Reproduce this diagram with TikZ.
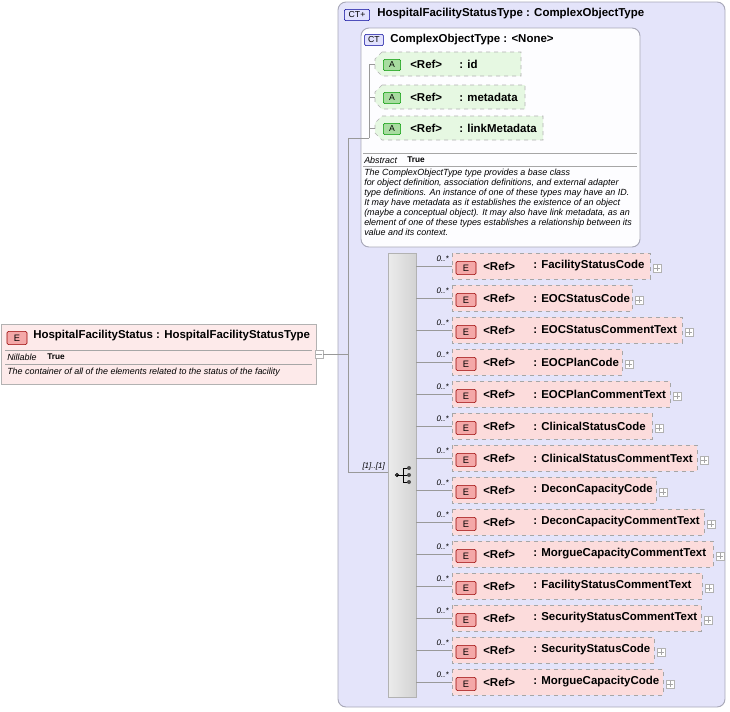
\documentclass[tikz,border=0pt]{standalone}
\usepackage{fontspec}
\setmainfont{Liberation Sans}
\usetikzlibrary{calc,positioning}
\definecolor{ctfill}{HTML}{E4E4FA}
\definecolor{ctline}{HTML}{A8A8B8}
\definecolor{efill}{HTML}{FCDCDC}
\definecolor{ebadge}{HTML}{F4A8A8}
\definecolor{afill}{HTML}{E6F8E2}
\definecolor{abadge}{HTML}{A8DCA0}
\tikzset{
	ctbox/.style={draw=ctline, rounded corners=6pt, line width=0.7pt},
	badge/.style={draw=#1!60!black, rounded corners=1pt, inner sep=0pt, minimum height=8.5pt, font=\fontsize{6.5}{7}\selectfont},
	refbox/.style={draw=gray!70, dashed, fill=efill, line width=0.5pt},
	attbox/.style={draw=gray!60, dashed, fill=afill, line width=0.5pt},
	lbl/.style={inner sep=0pt, anchor=west, font=\fontsize{8.6}{9}\selectfont\bfseries},
	note/.style={inner sep=0pt, anchor=west, font=\fontsize{6.7}{7.5}\selectfont\itshape, align=left},
	card/.style={inner sep=0pt, anchor=east, font=\fontsize{6}{6}\selectfont\itshape},
	conn/.style={draw=gray!80, line width=0.5pt},
	plusbox/.style={draw=gray!60, fill=white, minimum size=6pt, inner sep=0pt, line width=0.4pt}
}
\begin{document}
\begin{tikzpicture}[x=0.75pt, y=-0.75pt]
	\useasboundingbox (0,0) rectangle (730,711);

	% outer complex type
	\draw[ctbox, fill=ctfill] (338,2) rectangle (725,707);
	\node[badge=blue, fill=ctfill!70!blue!30, minimum width=19pt] (ctbadge) at (357,15) {CT+};
	\node[lbl] (cttitle) at (377,14) {HospitalFacilityStatusType : ComplexObjectType};

	% inner complex type
	\draw[ctbox, fill=white!92!ctfill] (361,28) rectangle (640,247);
	\node[badge=blue, fill=ctfill!70!blue!30, minimum width=14pt] (basebadge) at (374,40) {CT};
	\node[lbl] (basetitle) at (390,40) {ComplexObjectType : <None>};

	% attributes
	\coordinate (attjoin) at (369,138);
	\foreach \y/\r/\name [count=\i] in {64/521/id, 97/525/metadata, 128/543/linkMetadata} {
		\draw[attbox] (382,\y-12) -- (\r,\y-12) -- (\r,\y+12) -- (382,\y+12) -- (375,\y+5) -- (375,\y-5) -- cycle;
		\node[badge=green, fill=abadge, minimum width=13pt] (abadge\i) at (392,\y+1) {A};
		\node[lbl] (aref\i) at (410,\y) {<Ref>};
		\node[lbl] (aname\i) at (459,\y) {: \name};
		\coordinate (aport\i) at (375,\y);
		\draw[conn] (369,\y) -- (aport\i);
	}
	\draw[conn] (369,64) -- (attjoin);

	\draw[gray!70] (363,153) -- (637,153);
	\node[note] (abstract) at (364,160) {Abstract};
	\node[lbl, font=\fontsize{6.2}{7}\selectfont\bfseries] (abstrue) at (407,160) {True};
	\draw[gray!70] (363,166) -- (637,166);
	\node[note, anchor=north west] (basedoc) at (364,169) {The ComplexObjectType type provides a base class\\for object definition, association definitions, and external adapter\\type definitions. An instance of one of these types may have an ID.\\It may have metadata as it establishes the existence of an object\\(maybe a conceptual object). It may also have link metadata, as an\\element of one of these types establishes a relationship between its\\value and its context.};

	% sequence
	\shade[left color=gray!15, right color=gray!35, draw=gray!60] (388,253) rectangle (416,697);
	\node[inner sep=0pt] (seq) at (404,475) {};
	\draw[fill=black!70] (397,475) circle (1.3pt);
	\draw (397,475) -- (403,475) (403,468) -- (403,482) (403,468) -- (409,468) (403,475) -- (409,475) (403,482) -- (409,482);
	\foreach \yy in {468,475,482} \fill[black!70] (409,\yy) circle (1.5pt);

	% main connectors
	\coordinate (seqjoin) at (348,472);
	\draw[conn] (attjoin) -- (348,138) -- (seqjoin) -- (388,472);
	\node[card] (seqcard) at (385,466) {[1]..[1]};

	% element refs
	\foreach \name/\r [count=\i] in {FacilityStatusCode/650, EOCStatusCode/632, EOCStatusCommentText/682, EOCPlanCode/622, EOCPlanCommentText/670, ClinicalStatusCode/652, ClinicalStatusCommentText/697, DeconCapacityCode/656, DeconCapacityCommentText/704, MorgueCapacityCommentText/713, FacilityStatusCommentText/702, SecurityStatusCommentText/701, SecurityStatusCode/654, MorgueCapacityCode/663} {
		\pgfmathsetmacro\y{234+32*\i}
		\draw[refbox] (452,\y-13) rectangle (\r,\y+13);
		\node[badge=red, fill=ebadge, minimum width=15pt, minimum height=10pt, font=\fontsize{7}{7}\selectfont] (ebadge\i) at (466,\y+2) {E};
		\node[lbl] (eref\i) at (483,\y) {<Ref>};
		\node[lbl] (ename\i) at (533,\y) {: \name};
		\node[plusbox] (plus\i) at (\r+7,\y+2) {};
		\draw[gray!70, line width=0.3pt] ($(plus\i)+(-2pt,0)$) -- ($(plus\i)+(2pt,0)$) ($(plus\i)+(0,-2pt)$) -- ($(plus\i)+(0,2pt)$);
		\node[card] (card\i) at (449,\y-7) {0..*};
		\draw[conn] (416,\y) -- (452,\y);
	}

	% root element
	\draw[draw=gray!60, fill=efill!60] (1,324) rectangle (316,384);
	\node[badge=red, fill=ebadge, minimum width=15pt, minimum height=10pt, font=\fontsize{7}{7}\selectfont] (rootbadge) at (17,338) {E};
	\node[lbl] (roottitle) at (33,336) {HospitalFacilityStatus : HospitalFacilityStatusType};
	\draw[gray!70] (5,350) -- (312,350);
	\node[note] (nillable) at (7,357) {Nillable};
	\node[lbl, font=\fontsize{6.2}{7}\selectfont\bfseries] (niltrue) at (47,357) {True};
	\draw[gray!70] (5,364) -- (312,364);
	\node[note] (rootdoc) at (7,372) {The container of all of the elements related to the status of the facility};
	\node[plusbox] (minus) at (319,354) {};
	\draw[gray!70, line width=0.3pt] ($(minus)+(-2pt,0)$) -- ($(minus)+(2pt,0)$);
	\draw[conn] (minus) -- (348,354);
\end{tikzpicture}
\end{document}
